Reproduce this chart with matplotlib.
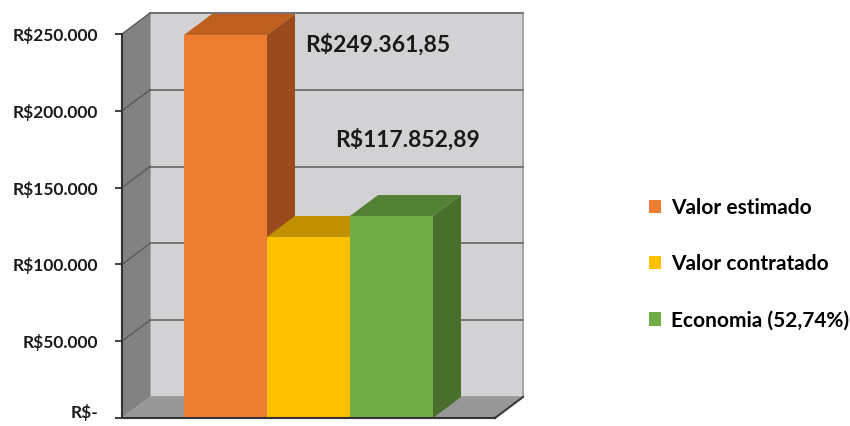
import matplotlib
matplotlib.use("Agg")
import matplotlib.pyplot as plt
from matplotlib.patches import Polygon, Patch

# ---- data ----
series = ["Valor estimado", "Valor contratado", "Economia (52,74%)"]
values = [249361.85, 117852.89, 131508.96]
value_labels = ["R$249.361,85", "R$117.852,89"]
yticks = [0, 50000, 100000, 150000, 200000, 250000]
ytick_labels = ["R$-", "R$50.000", "R$100.000", "R$150.000", "R$200.000", "R$250.000"]

front_colors = ["#ED7D31", "#FFC000", "#70AD47"]
top_colors = ["#BE5F20", "#C39100", "#548235"]
side_colors = ["#9A4A1C", "#A67B00", "#4A6E2C"]

W, H = 850, 426
FONT = ["Lato", "DejaVu Sans"]
plt.rcParams['font.family'] = FONT

fig = plt.figure(figsize=(W / 100, H / 100), dpi=100)
ax = fig.add_axes([122 / W, (H - 418) / H, (495 - 122) / W, 384 / H])
xmin, xmax = -1.247, 3.247
ymax = 250000
ax.set_xlim(xmin, xmax)
ax.set_ylim(0, ymax)

# depth offsets (pixels -> data units)
px_x = (xmax - xmin) / (495 - 122)
px_y = ymax / 384
dx = 28 * px_x
dy = 21 * px_y

def poly(pts, color, z, ec="none", lw=0):
    p = Polygon(pts, closed=True, facecolor=color, edgecolor=ec, lw=lw,
                zorder=z, clip_on=False)
    ax.add_patch(p)

# back wall
poly([(xmin + dx, dy), (xmax + dx, dy), (xmax + dx, ymax + dy), (xmin + dx, ymax + dy)],
     "#D2D1D3", 0.5, ec="#9a9a9a", lw=1.2)
# side wall
poly([(xmin, 0), (xmin + dx, dy), (xmin + dx, ymax + dy), (xmin, ymax)], "#828282", 0.6)
# floor
poly([(xmin, 0), (xmin + dx, dy), (xmax + dx, dy), (xmax, 0)], "#979797", 0.6)
ax.plot([xmax, xmax + dx], [0, dy], color="#3a3a3a", lw=1.5, zorder=0.7, clip_on=False)

# gridlines
for t in yticks[1:]:
    ax.plot([xmin + dx, xmax + dx], [t + dy, t + dy], color="#6e6e6e", lw=1.3,
            zorder=0.7, clip_on=False)
    ax.plot([xmin, xmin + dx], [t, t + dy], color="#5a5a5a", lw=1.0,
            zorder=0.7, clip_on=False)

# bars
width = 1.0
for i, (v, fc, tc, sc) in enumerate(zip(values, front_colors, top_colors, side_colors)):
    x0, x1 = i - width / 2, i + width / 2
    z = 1 + i
    poly([(x1, 0), (x1 + dx, dy), (x1 + dx, v + dy), (x1, v)], sc, z)
    poly([(x0, v), (x1, v), (x1 + dx, v + dy), (x0 + dx, v + dy)], tc, z)
    poly([(x0, 0), (x1, 0), (x1, v), (x0, v)], fc, z + 0.1)

# data labels
ax.text(0.958, 243000, value_labels[0], ha="left", va="center", fontsize=16.5,
        fontweight="bold", color="#1a1a1a", zorder=10)
ax.text(1.32, 181000, value_labels[1], ha="left", va="center", fontsize=16.5,
        fontweight="bold", color="#1a1a1a", zorder=10)

# axes styling
for s in ["top", "right"]:
    ax.spines[s].set_visible(False)
ax.spines["left"].set_color("#333333")
ax.spines["left"].set_linewidth(1.5)
ax.spines["bottom"].set_color("#333333")
ax.spines["bottom"].set_linewidth(1.5)
ax.spines["left"].set_zorder(20)
ax.spines["bottom"].set_zorder(20)
ax.set_xticks([])
ax.set_yticks(yticks)
ax.set_yticklabels(ytick_labels, fontsize=12.5, fontweight="bold", color="#1a1a1a")
ax.tick_params(axis="y", length=5, width=1.3, color="#333333", pad=12)
ax.get_yticklabels()[0].set_verticalalignment("baseline")
ax.patch.set_visible(False)

# legend
handles = [Patch(facecolor=c, edgecolor="none") for c in front_colors]
fig.legend(handles, series, loc="center left", bbox_to_anchor=(630 / W, (H - 264) / H),
           frameon=False, prop={"family": FONT, "weight": "bold", "size": 15},
           handlelength=0.6, handleheight=0.6, handletextpad=0.45, labelspacing=1.75)

fig.savefig("out.png", dpi=100)
